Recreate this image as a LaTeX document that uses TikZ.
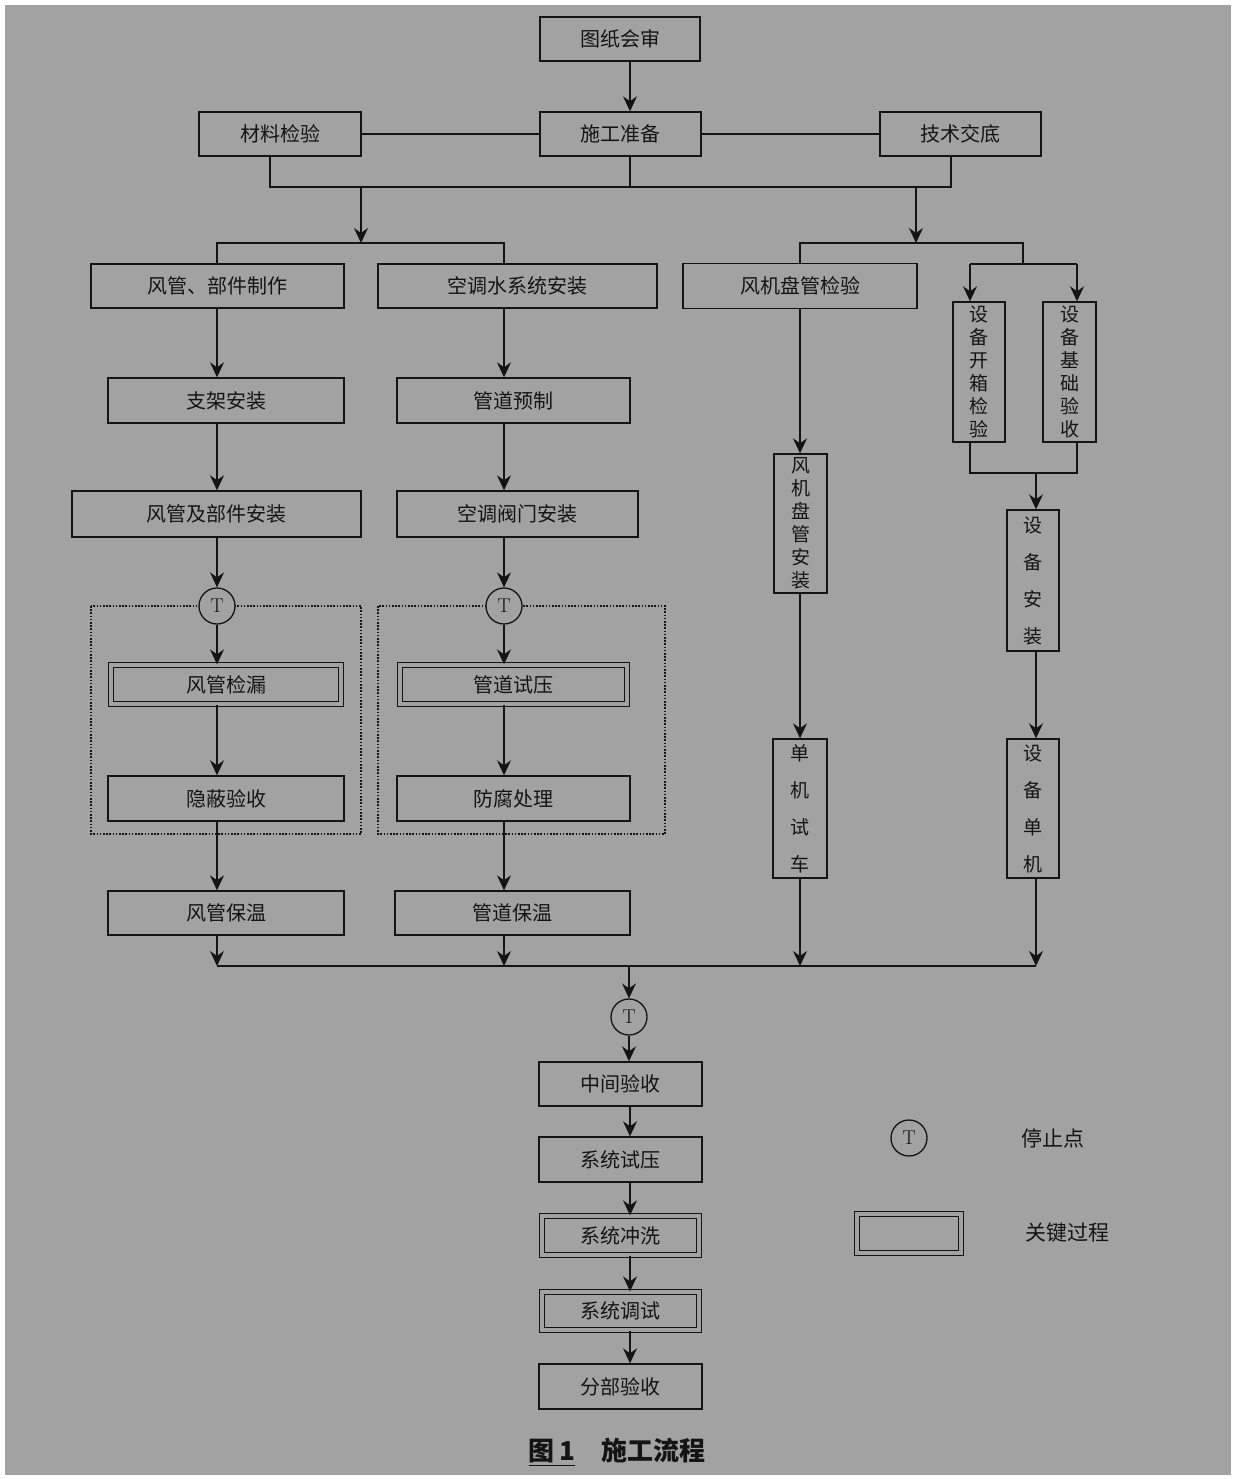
\documentclass[tikz,border=0pt]{standalone}
\usepackage{fontspec}
\newfontfamily\cjk{Noto Sans CJK SC}
\usetikzlibrary{arrows.meta}
\definecolor{bg}{RGB}{162,162,162}
\definecolor{ink}{RGB}{20,20,20}
\tikzset{
  ln/.style={draw=ink, line width=1.4pt},
  arr/.style={ln, -{Stealth[length=15pt,width=14pt,inset=5pt]}},
  box/.style={draw=ink, line width=1.4pt, rectangle, inner sep=0pt,
    font=\cjk\fontsize{20}{24}\selectfont, text=ink},
  keybox/.style={box, double=bg, double distance=3.6pt, line width=1.3pt},
  vbox6/.style={box, align=center, font=\cjk\fontsize{19}{23}\selectfont},
  vbox4/.style={box, align=center, font=\cjk\fontsize{19}{37}\selectfont},
  tcirc/.style={draw=ink, line width=1.3pt, circle, fill=bg, minimum size=36pt,
    inner sep=0pt, font=\fontsize{20}{24}\selectfont, text=ink},
  dotbox/.style={draw=ink, line width=1.2pt, dash pattern=on 1.6pt off 1.6pt},
  lab/.style={font=\cjk\fontsize{21}{24}\selectfont, text=ink}
}
\begin{document}
\begin{tikzpicture}[x=1pt,y=-1pt]
\useasboundingbox (0,0) rectangle (1235,1479);
\fill[bg] (5,5) rectangle (1231,1475);

% dotted groups
\draw[dotbox] (91,606) rectangle (361,834);
\draw[dotbox] (378,606) rectangle (665,834);

% top
\node[box, minimum width=160pt, minimum height=44pt] (tz) at (620,39) {图纸会审};
\node[box, minimum width=162pt, minimum height=44pt] (cl) at (280,134) {材料检验};
\node[box, minimum width=161pt, minimum height=44pt] (sg) at (620.5,134) {施工准备};
\node[box, minimum width=161pt, minimum height=44pt] (js) at (960.5,134) {技术交底};

% column 1
\node[box, minimum width=253pt, minimum height=44pt] (fg) at (217.5,286) {风管、部件制作};
\node[box, minimum width=236pt, minimum height=45pt] (zj) at (226,400.5) {支架安装};
\node[box, minimum width=289pt, minimum height=46pt] (fa) at (216.5,514) {风管及部件安装};
\node[tcirc] (t1) at (217,606) {T};
\node[keybox, minimum width=230pt, minimum height=39pt] (fk) at (226,684.5) {风管检漏};
\node[box, minimum width=236pt, minimum height=45pt] (yb) at (226,798.5) {隐蔽验收};
\node[box, minimum width=236pt, minimum height=44pt] (fb) at (226,913) {风管保温};

% column 2
\node[box, minimum width=279pt, minimum height=44pt] (ks) at (517.5,286) {空调水系统安装};
\node[box, minimum width=233pt, minimum height=45pt] (gy) at (513.5,400.5) {管道预制};
\node[box, minimum width=241pt, minimum height=46pt] (fm) at (517.5,514) {空调阀门安装};
\node[tcirc] (t2) at (504,606) {T};
\node[keybox, minimum width=227pt, minimum height=39pt] (gs) at (513.5,684.5) {管道试压};
\node[box, minimum width=233pt, minimum height=45pt] (ff) at (513.5,798.5) {防腐处理};
\node[box, minimum width=235pt, minimum height=44pt] (gb) at (512.5,913) {管道保温};

% column 3
\node[box, minimum width=234pt, minimum height=45pt] (fj) at (800,286) {风机盘管检验};
\node[vbox6, minimum width=53pt, minimum height=139pt] (fp) at (800.5,523.5) {风\\机\\盘\\管\\安\\装};
\node[vbox4, minimum width=54pt, minimum height=139pt] (dj) at (800,808.5) {单\\机\\试\\车};

% column 4
\node[vbox6, minimum width=52pt, minimum height=140pt] (kx) at (979,372) {设\\备\\开\\箱\\检\\验};
\node[vbox6, minimum width=53pt, minimum height=140pt] (jc) at (1069.5,372) {设\\备\\基\\础\\验\\收};
\node[vbox4, minimum width=52pt, minimum height=141pt] (sa) at (1033,580.5) {设\\备\\安\\装};
\node[vbox4, minimum width=52pt, minimum height=139pt] (sd) at (1033,808.5) {设\\备\\单\\机};

% bottom column
\node[tcirc] (t3) at (629,1017) {T};
\node[box, minimum width=163pt, minimum height=44pt] (zy) at (620.5,1084) {中间验收};
\node[box, minimum width=163pt, minimum height=45pt] (xs) at (620.5,1159.5) {系统试压};
\node[keybox, minimum width=157pt, minimum height=39pt] (xc) at (620.5,1235.5) {系统冲洗};
\node[keybox, minimum width=157pt, minimum height=38pt] (xt) at (620.5,1311) {系统调试};
\node[box, minimum width=163pt, minimum height=45pt] (fy) at (620.5,1386.5) {分部验收};

% legend
\node[tcirc] (t4) at (909,1138) {T};
\node[lab] (l1) at (1053,1138) {停止点};
\node[keybox, minimum width=104pt, minimum height=39pt] (lk) at (909,1233.5) {};
\node[lab] (l2) at (1067,1233) {关键过程};

% caption
\node[font=\cjk\bfseries\fontsize{26}{30}\selectfont, text=ink] (cap) at (617,1452)
  {\underline{图\,1}\hspace{1em}施工流程};

% coordinates
\coordinate (mx) at (630,0);
\coordinate (b1) at (270,187);
\coordinate (b2) at (951,187);
\coordinate (s1) at (361,243);
\coordinate (s2) at (916,243);
\coordinate (c1) at (217,0);
\coordinate (c2) at (504,0);
\coordinate (c3) at (800,0);
\coordinate (r1) at (1023,264);
\coordinate (a1) at (970,0);
\coordinate (a2) at (1077,0);
\coordinate (j4) at (1036,473);
\coordinate (bus) at (0,966);

% top connectors
\draw[arr] (tz.south -| mx) -- (sg.north -| mx);
\draw[ln] (cl.east) -- (sg.west);
\draw[ln] (sg.east) -- (js.west);
\draw[ln] (cl.south -| b1) -- (b1) -- (b2) -- (js.south -| b2);
\draw[ln] (sg.south -| mx) -- (mx |- b1);
\draw[arr] (s1 |- b1) -- (s1);
\draw[arr] (s2 |- b1) -- (s2);

% left split
\draw[ln] (fg.north -| c1) -- (c1 |- s1) -- (c2 |- s1) -- (ks.north -| c2);
% right split
\draw[ln] (fj.north -| c3) -- (c3 |- s2) -- (r1 |- s2) -- (r1);
\draw[ln] (a1 |- r1) -- (a2 |- r1);
\draw[arr] (a1 |- r1) -- (kx.north -| a1);
\draw[arr] (a2 |- r1) -- (jc.north -| a2);

% column 1 chain
\draw[arr] (fg.south -| c1) -- (zj.north -| c1);
\draw[arr] (zj.south -| c1) -- (fa.north -| c1);
\draw[arr] (fa.south -| c1) -- (t1.north);
\draw[arr] (t1.south) -- (fk.north -| c1);
\draw[arr] (fk.south -| c1) -- (yb.north -| c1);
\draw[arr] (yb.south -| c1) -- (fb.north -| c1);
\draw[arr] (fb.south -| c1) -- (c1 |- bus);

% column 2 chain
\draw[arr] (ks.south -| c2) -- (gy.north -| c2);
\draw[arr] (gy.south -| c2) -- (fm.north -| c2);
\draw[arr] (fm.south -| c2) -- (t2.north);
\draw[arr] (t2.south) -- (gs.north -| c2);
\draw[arr] (gs.south -| c2) -- (ff.north -| c2);
\draw[arr] (ff.south -| c2) -- (gb.north -| c2);
\draw[arr] (gb.south -| c2) -- (c2 |- bus);

% column 3 chain
\draw[arr] (fj.south -| c3) -- (fp.north -| c3);
\draw[arr] (fp.south -| c3) -- (dj.north -| c3);
\draw[arr] (dj.south -| c3) -- (c3 |- bus);

% column 4 chain
\draw[ln] (kx.south -| a1) -- (a1 |- j4) -- (a2 |- j4) -- (jc.south -| a2);
\draw[arr] (j4) -- (sa.north -| j4);
\draw[arr] (sa.south -| j4) -- (sd.north -| j4);
\draw[arr] (sd.south -| j4) -- (j4 |- bus);

% bottom bus
\draw[ln] (c1 |- bus) -- (j4 |- bus);
\draw[arr] (t3.north |- bus) -- (t3.north);
\draw[arr] (t3.south) -- (zy.north -| t3.south);
\draw[arr] (zy.south -| mx) -- (xs.north -| mx);
\draw[arr] (xs.south -| mx) -- (xc.north -| mx);
\draw[arr] (xc.south -| mx) -- (xt.north -| mx);
\draw[arr] (xt.south -| mx) -- (fy.north -| mx);
\end{tikzpicture}
\end{document}
